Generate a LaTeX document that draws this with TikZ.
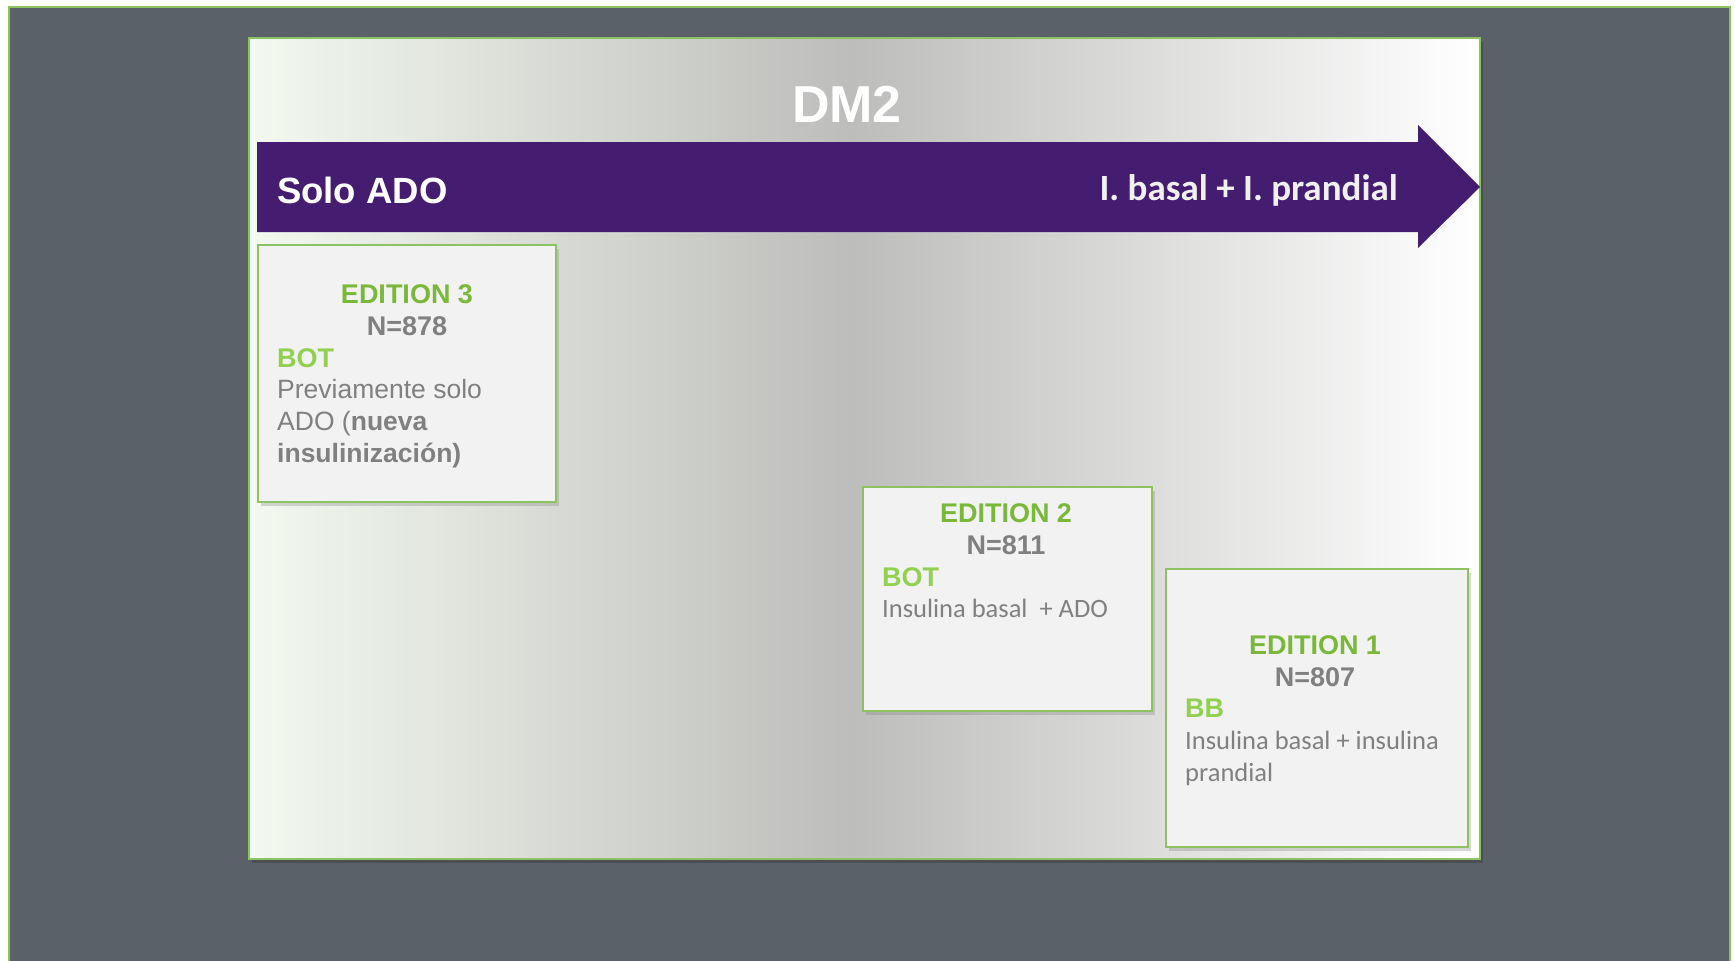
\documentclass[tikz,border=0pt]{standalone}
\usepackage{fontspec}
\setmainfont{Liberation Sans}
\newfontfamily\calibri{Carlito}
\usetikzlibrary{shadows}

\definecolor{slate}{RGB}{91,97,105}
\definecolor{framegreen}{RGB}{140,194,98}
\definecolor{edgreen}{RGB}{122,184,58}
\definecolor{botgreen}{RGB}{146,208,80}
\definecolor{arrowpurple}{RGB}{68,28,112}
\definecolor{boxgray}{RGB}{242,242,242}
\definecolor{txtgray}{RGB}{128,128,128}
\definecolor{panleft}{RGB}{243,249,239}
\definecolor{panmid}{RGB}{189,189,187}
\pgfdeclarehorizontalshading{panelshade}{100bp}{color(0bp)=(panleft); color(25bp)=(panleft); color(49.5bp)=(panmid); color(75bp)=(white); color(100bp)=(white)}

\tikzset{
  edbox/.style={draw=framegreen, line width=2pt, fill=boxgray, anchor=north west,
    drop shadow={opacity=0.3, shadow xshift=3pt, shadow yshift=-4pt}},
  edtitle/.style={anchor=base, inner sep=0pt, text=edgreen, font=\fontsize{27}{32}\selectfont\bfseries},
  ednum/.style={anchor=base, inner sep=0pt, text=txtgray, font=\fontsize{27}{32}\selectfont\bfseries},
  edtag/.style={anchor=base west, inner sep=0pt, text=botgreen, font=\fontsize{27}{32}\selectfont\bfseries},
  edbody/.style={anchor=base west, inner sep=0pt, text=txtgray, align=left, font=\fontsize{26.5}{32}\selectfont},
  edbodyc/.style={edbody, font=\calibri\fontsize{26.5}{32}\selectfont},
}

\begin{document}
\begin{tikzpicture}[x=1pt,y=-1pt]
    \clip (0,0) rectangle (1735,961);
    %% slide background
    \fill[white] (0,0) rectangle (1735,961);
    \filldraw[fill=slate, draw=framegreen, line width=2pt] (9,7) rectangle (1730,990);
    %% panel
    \fill[black, opacity=0.18] (252,42) rectangle (1483,863);
    \shadedraw[shading=panelshade, draw=framegreen, line width=2pt] (249,38) rectangle (1480,859);
    \node[anchor=base, inner sep=0pt, text=white, font=\fontsize{52}{60}\selectfont\bfseries] (dm) at (847,122) {DM2};
    %% timeline arrow
    \fill[arrowpurple] (257,142) -- (1418,142) -- (1418,125) -- (1480,187) -- (1418,248) -- (1418,232) -- (257,232) -- cycle;
    \node[anchor=base west, inner sep=0pt, text=white, font=\fontsize{36.5}{40}\selectfont\bfseries] (solo) at (277,203) {Solo ADO};
    \node[anchor=base east, inner sep=0pt, text=white!94!black, font=\calibri\fontsize{37}{40}\selectfont\bfseries] (bp) at (1398,200) {I. basal + I. prandial};
    %% edition 3
    \node[edbox, minimum width=298pt, minimum height=257pt] (ed3) at (257,244) {};
    \node[edtitle] (t3) at (407,303) {EDITION 3};
    \node[ednum] (n3) at (407,335) {N=878};
    \node[edtag] (g3) at (277,367) {BOT};
    \node[edbody] (b3) at (277,462) {Previamente solo\\ADO (\textbf{nueva}\\\textbf{insulinización)}};
    %% edition 2
    \node[edbox, minimum width=289pt, minimum height=224pt] (ed2) at (862,486) {};
    \node[edtitle] (t2) at (1006,522) {EDITION 2};
    \node[ednum] (n2) at (1006,554) {N=811};
    \node[edtag] (g2) at (882,586) {BOT};
    \node[edbodyc] (b2) at (882,617) {Insulina basal\ \ + ADO};
    %% edition 1
    \node[edbox, minimum width=302pt, minimum height=278pt] (ed1) at (1165,568) {};
    \node[edtitle] (t1) at (1315,654) {EDITION 1};
    \node[ednum] (n1) at (1315,686) {N=807};
    \node[edtag] (g1) at (1185,717) {BB};
    \node[edbodyc] (b1) at (1185,781) {Insulina basal + insulina\\prandial};
\end{tikzpicture}
\end{document}
